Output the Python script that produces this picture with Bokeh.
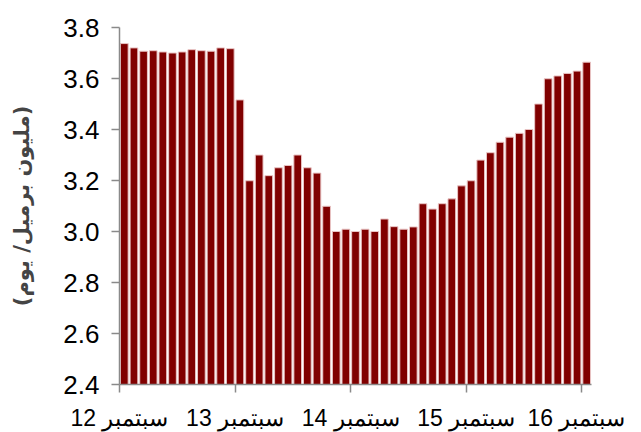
from bokeh.plotting import figure
from bokeh.models import ColumnDataSource, FixedTicker, Range1d, NumeralTickFormatter
from bokeh.embed import file_html
from bokeh.resources import INLINE

# monthly values, Sep 2012 .. Sep 2016 (million barrels/day)
values = [3.737, 3.720, 3.707, 3.709, 3.704, 3.700, 3.704, 3.713, 3.709, 3.707, 3.720, 3.717,
          3.516, 3.199, 3.300, 3.219, 3.250, 3.259, 3.300, 3.250, 3.229, 3.099, 3.000, 3.009,
          3.000, 3.009, 3.000, 3.049, 3.019, 3.009, 3.018, 3.109, 3.088, 3.109, 3.128, 3.179,
          3.199, 3.280, 3.309, 3.350, 3.370, 3.385, 3.400, 3.500, 3.599, 3.610, 3.620, 3.629, 3.664]
tick_months = [0, 12, 24, 36, 48]
tick_labels = ["سبتمبر 12", "سبتمبر 13", "سبتمبر 14", "سبتمبر 15", "سبتمبر 16"]
y_ticks = [2.4, 2.6, 2.8, 3.0, 3.2, 3.4, 3.6, 3.8]

src = ColumnDataSource(dict(x=[i + 0.5 for i in range(len(values))], top=values))

p = figure(width=625, height=416, output_backend="svg", toolbar_location=None,
           frame_width=472, frame_height=357,
           x_range=Range1d(0, len(values)), y_range=Range1d(2.4, 3.8))
p.min_border_left = 119
p.min_border_top = 27
p.min_border_right = 34
p.min_border_bottom = 40

p.vbar(x="x", top="top", bottom=2.4, width=0.8, source=src,
       fill_color="#800000", line_color="#e9c4c4", line_width=1)

p.grid.visible = False
p.outline_line_color = None
p.background_fill_color = "white"

for ax in (p.xaxis[0], p.yaxis[0]):
    ax.axis_line_color = "#8a8a8a"
    ax.axis_line_width = 1.5
    ax.major_tick_line_color = "#8a8a8a"
    ax.major_tick_line_width = 1.5
    ax.major_tick_in = 0
    ax.major_tick_out = 8
    ax.minor_tick_line_color = None
    ax.major_label_text_font = "Liberation Sans"
    ax.major_label_text_color = "black"

p.yaxis[0].ticker = FixedTicker(ticks=y_ticks)
p.yaxis[0].formatter = NumeralTickFormatter(format="0.0")
p.yaxis[0].major_label_text_font_size = "26px"
p.yaxis[0].major_label_standoff = 12
p.yaxis[0].axis_label = "(مليون برميل/ يوم)"
p.yaxis[0].axis_label_text_font = "DejaVu Sans"
p.yaxis[0].axis_label_text_font_style = "bold"
p.yaxis[0].axis_label_text_font_size = "21px"
p.yaxis[0].axis_label_standoff = 26

p.xaxis[0].ticker = FixedTicker(ticks=tick_months)
p.xaxis[0].major_label_overrides = {t: l for t, l in zip(tick_months, tick_labels)}
p.xaxis[0].major_label_text_font_size = "23px"
p.xaxis[0].major_label_standoff = 12

open("out.html", "w").write(file_html(p, INLINE))
